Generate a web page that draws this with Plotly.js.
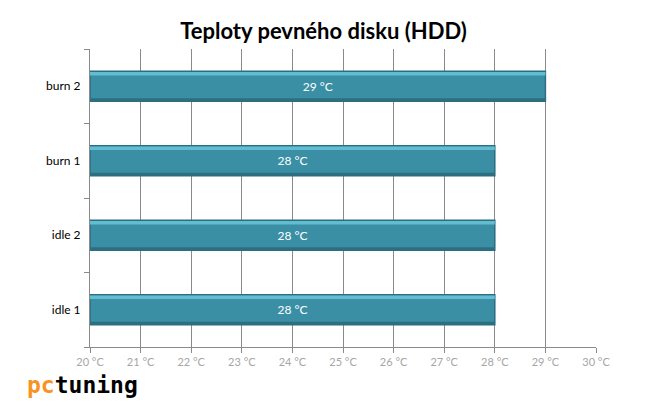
<!DOCTYPE html>
<html><head><meta charset="utf-8">
<script src="https://cdn.plot.ly/plotly-3.0.1.min.js"></script>
<style>html,body{margin:0;padding:0;background:#fff}</style>
</head><body>
<div id="chart" style="width:647px;height:410px"></div>
<script>
const categories = ["idle 1", "idle 2", "burn 1", "burn 2"];
const values = [28, 28, 28, 29];
const barLabels = ["28 °C", "28 °C", "28 °C", "29 °C"];
const tickVals = [20, 21, 22, 23, 24, 25, 26, 27, 28, 29, 30];
const tickText = tickVals.map(v => v + " °C");
const axisStart = 20;

const font = "Lato, 'Open Sans', sans-serif";
const lengths = values.map(v => v - axisStart);
const data = [{
  type: "bar",
  orientation: "h",
  y: categories,
  x: lengths,
  base: axisStart,
  text: barLabels,
  textposition: "inside",
  insidetextanchor: "middle",
  textangle: 0,
  constraintext: "none",
  textfont: {color: "#ffffff", size: 12, family: font},
  marker: {color: "#3A8FA5", line: {color: "#2B6E80", width: 1.5}},
  width: 0.4,
  hoverinfo: "none"
}, {
  type: "bar", orientation: "h", y: categories, x: lengths, base: axisStart,
  width: 0.045, offset: 0.145,
  marker: {color: "#62BDD3", line: {width: 0}},
  hoverinfo: "none"
}, {
  type: "bar", orientation: "h", y: categories, x: lengths, base: axisStart,
  width: 0.04, offset: -0.2,
  marker: {color: "#2C6F80", line: {width: 0}},
  hoverinfo: "none"
}];
const layout = {
  width: 647, height: 410,
  margin: {l: 90, r: 51, t: 49, b: 63},
  paper_bgcolor: "#fff", plot_bgcolor: "#fff",
  showlegend: false,
  barmode: "overlay",
  title: {text: "<b>Teploty pevného disku (HDD)</b>", x: 0.5, xanchor: "center", y: 0.923, yanchor: "middle",
          font: {family: font, size: 22, color: "#000"}},
  xaxis: {
    range: [20, 30], tickvals: tickVals, ticktext: tickText,
    showgrid: true, gridcolor: "#8a8a8a", gridwidth: 1,
    showline: true, linecolor: "#8a8a8a", linewidth: 1,
    ticks: "outside", ticklen: 5, tickcolor: "#8a8a8a",
    tickfont: {family: font, size: 11, color: "#a6a6a6"},
    zeroline: false, fixedrange: true
  },
  yaxis: {
    showgrid: false, showline: true, linecolor: "#8a8a8a", linewidth: 1,
    ticks: "outside", ticklen: 5, tickcolor: "#8a8a8a", tickson: "boundaries",
    tickfont: {family: font, size: 12, color: "#000"},
    ticklabelstandoff: 6,
    range: [-0.5, 3.5], fixedrange: true
  },
  annotations: [{
    xref: "paper", yref: "paper", x: -0.128, y: -0.128, xanchor: "left", yanchor: "middle",
    showarrow: false,
    text: "<b><span style='color:#F7931E'>pc</span><span style='color:#000'>tuning</span></b>",
    font: {family: "'DejaVu Sans Mono', monospace", size: 23, color: "#000"}
  }]
};
Plotly.newPlot("chart", data, layout, {displayModeBar: false, staticPlot: true});
</script>
</body></html>
